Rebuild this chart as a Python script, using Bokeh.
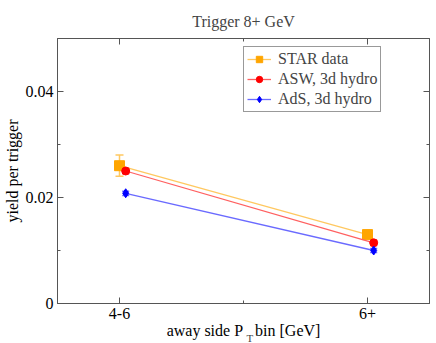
import math
from bokeh.plotting import figure
from bokeh.models import (ColumnDataSource, FixedTicker, LinearAxis,
                          Legend, LegendItem, Label, Range1d)
from bokeh.embed import file_html
from bokeh.resources import INLINE

# ---- data ----
bins = ["4-6", "6+"]
bin_pos = [1, 2]
star_x = [1.0, 2.0]
star_y = [0.026, 0.0130]
star_err = [0.002, 0.0005]
asw_x = [1.025, 2.025]
asw_y = [0.0250, 0.01145]
asw_err = [0.0005, 0.0005]
ads_x = [1.025, 2.025]
ads_y = [0.0208, 0.0100]
ads_err = [0.0004, 0.0004]
y_ticks = [0, 0.02, 0.04]
y_minor = [0.01, 0.03]
x_minor = [1.5]

FONT = "Liberation Serif"
AX = "#555555"

p = figure(width=436, height=343, x_range=Range1d(0.75, 2.25), y_range=Range1d(0, 0.05),
           output_backend="svg", toolbar_location=None,
           min_border_left=56, min_border_right=2, min_border_top=38, min_border_bottom=40,
           x_axis_location=None, y_axis_location=None, title="Trigger 8+ GeV")
p.title.text_font = FONT
p.title.text_font_size = "16px"
p.title.text_font_style = "normal"
p.title.align = "center"
p.title.standoff = 18
p.grid.visible = False
p.outline_line_color = AX
p.background_fill_color = "white"
p.border_fill_color = "white"

def style_axis(ax, ticks, minor, labels, show):
    ax.ticker = FixedTicker(ticks=ticks, minor_ticks=minor)
    ax.major_tick_in = 6
    ax.major_tick_out = 0
    ax.minor_tick_in = 3
    ax.minor_tick_out = 0
    ax.axis_line_color = AX
    ax.major_tick_line_color = AX
    ax.minor_tick_line_color = AX
    ax.major_label_text_font = FONT
    ax.major_label_text_font_size = "16px"
    ax.major_label_standoff = 4
    if show:
        ax.major_label_overrides = labels
        ax.major_label_text_color = "black"
    else:
        ax.major_label_overrides = {t: "" for t in ticks}
        ax.major_label_text_color = None
        ax.major_label_standoff = 0

xlab = {b: s for b, s in zip(bin_pos, bins)}
ylab = {0: "0", 0.02: "0.02", 0.04: "0.04"}
for loc, show in (("below", True), ("above", False)):
    ax = LinearAxis()
    style_axis(ax, bin_pos, x_minor, xlab, show)
    if show:
        # non-breaking spaces leave room for the subscript T
        ax.axis_label = "away side P\u00a0\u00a0\u00a0bin [GeV]"
        ax.axis_label_text_font = FONT
        ax.axis_label_text_font_size = "16px"
        ax.axis_label_text_font_style = "normal"
        ax.axis_label_text_color = "black"
        ax.axis_label_standoff = 0
    p.add_layout(ax, loc)
for loc, show in (("left", True), ("right", False)):
    ax = LinearAxis()
    style_axis(ax, y_ticks, y_minor, ylab, show)
    if show:
        ax.axis_label = "yield per trigger"
        ax.axis_label_text_font = FONT
        ax.axis_label_text_font_size = "16px"
        ax.axis_label_text_font_style = "normal"
        ax.axis_label_text_color = "black"
        ax.axis_label_standoff = 2
    p.add_layout(ax, loc)

ORANGE = "#FFA500"
ORANGE_L = "#FFC860"
RED = "#FF0000"
RED_L = "#FF6060"
BLUE = "#0000FF"
BLUE_L = "#6A6AFF"

def errsrc(x, y, e):
    return ColumnDataSource(dict(x=x, y=y, lo=[a - b for a, b in zip(y, e)],
                                 hi=[a + b for a, b in zip(y, e)]))

s_star = errsrc(star_x, star_y, star_err)
s_asw = errsrc(asw_x, asw_y, asw_err)
s_ads = errsrc(ads_x, ads_y, ads_err)

# error bars as glyphs (vertical segment + caps)
for src, col, head in ((s_star, ORANGE_L, 8), (s_asw, RED_L, 7), (s_ads, BLUE_L, 7)):
    p.segment(x0="x", y0="lo", x1="x", y1="hi", source=src, line_color=col, line_width=1.5)
    p.scatter("x", "lo", source=src, marker="dash", size=head, line_color=col, line_width=1.5)
    p.scatter("x", "hi", source=src, marker="dash", size=head, line_color=col, line_width=1.5)

l1 = p.line("x", "y", source=s_star, line_color=ORANGE_L, line_width=1.3)
m1 = p.scatter("x", "y", source=s_star, marker="square", size=10, fill_color=ORANGE, line_color=ORANGE)
l2 = p.line("x", "y", source=s_asw, line_color=RED_L, line_width=1.3)
m2 = p.scatter("x", "y", source=s_asw, marker="circle", size=8, fill_color=RED, line_color=RED)
l3 = p.line("x", "y", source=s_ads, line_color=BLUE_L, line_width=1.3)
m3 = p.scatter("x", "y", source=s_ads, marker="diamond", size=9, fill_color=BLUE, line_color=BLUE)

legend = Legend(items=[LegendItem(label="STAR data", renderers=[l1, m1]),
                       LegendItem(label="ASW, 3d hydro", renderers=[l2, m2]),
                       LegendItem(label="AdS, 3d hydro", renderers=[l3, m3])],
                location=(186, 191), orientation="vertical")
legend.label_text_font = FONT
legend.label_text_font_size = "16px"
legend.label_height = 16
legend.glyph_height = 16
legend.glyph_width = 24
legend.label_standoff = 7
legend.spacing = 2
legend.padding = 3
legend.margin = 0
legend.border_line_color = "#333333"
legend.border_line_width = 1
legend.background_fill_alpha = 1
p.add_layout(legend, "center")

# subscript T of the x-axis label (panel beside the frame, offsets in px)
p.add_layout(Label(x=-183, y=-34, x_units="screen", y_units="screen", text="T",
                   text_font=FONT, text_font_size="11px", text_baseline="alphabetic"), "right")

open("out.html", "w").write(file_html(p, INLINE))
